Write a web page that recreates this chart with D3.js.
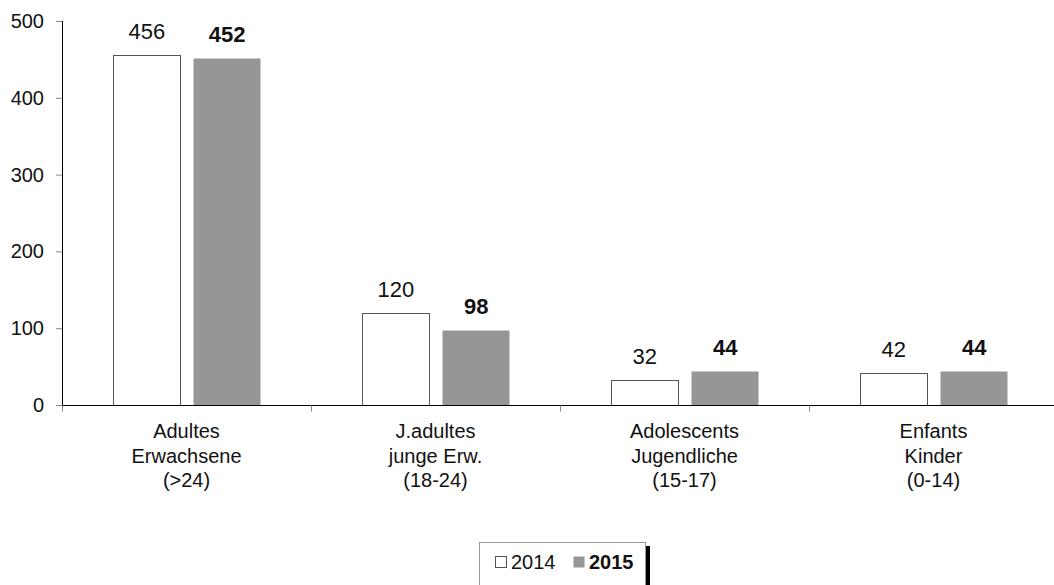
<!DOCTYPE html>
<html><head><meta charset="utf-8">
<script src="https://cdn.jsdelivr.net/npm/d3@7"></script>
<style>
body{margin:0;background:#fff;}
svg{display:block;font-family:"Liberation Sans",Arial,Helvetica,sans-serif;}
</style></head>
<body><svg id="c" width="1054" height="585"></svg>
<script>
const categories = [["Adultes","Erwachsene","(>24)"],["J.adultes","junge Erw.","(18-24)"],["Adolescents","Jugendliche","(15-17)"],["Enfants","Kinder","(0-14)"]];
const categoryKeys = ["Adultes","J.adultes","Adolescents","Enfants"];
const seriesNames = ["2014","2015"];
const values2014 = [456,120,32,42];
const values2015 = [452,98,44,44];
const yTicks = [0,100,200,300,400,500];

const svg = d3.select("#c");
const x0 = d3.scaleBand().domain(categoryKeys).range([62,1058]);
const bw = x0.bandwidth();
const x1 = d3.scaleBand().domain(seriesNames).range([bw*0.205, bw*0.799]).paddingInner(0.1615);
const y = d3.scaleLinear().domain([0,500]).range([405,21]);

const series = [
  {name:"2014", values:values2014, fill:"#ffffff", stroke:"#555555", weight:"normal"},
  {name:"2015", values:values2015, fill:"#969696", stroke:"none", weight:"bold"}
];

// y axis
const yAxis = svg.append("g").attr("transform","translate(62,0)")
  .call(d3.axisLeft(y).tickValues(yTicks).tickSize(6).tickPadding(12));
yAxis.select(".domain").attr("stroke","#000").attr("d","M0.5,21V405.5");
yAxis.selectAll(".tick line").attr("stroke","#888");
yAxis.selectAll(".tick text").attr("font-size",20).attr("fill","#111").attr("font-family","Liberation Sans, Arial, sans-serif");

// bars
series.forEach(s=>{
  svg.append("g").selectAll("rect").data(s.values).join("rect")
    .attr("x",(d,i)=>Math.round(x0(categoryKeys[i])+x1(s.name))+0.5)
    .attr("y",d=>Math.round(y(d))+0.5)
    .attr("width",Math.round(x1.bandwidth()))
    .attr("height",d=>Math.round(y(0)-y(d)))
    .attr("fill",s.fill).attr("stroke",s.stroke).attr("stroke-width",1);
  svg.append("g").selectAll("text").data(s.values).join("text")
    .attr("x",(d,i)=>x0(categoryKeys[i])+x1(s.name)+x1.bandwidth()/2)
    .attr("y",d=>y(d)-16)
    .attr("text-anchor","middle").attr("font-size",22).attr("font-weight",s.weight).attr("fill","#111")
    .text(d=>d);
});

// x axis
const xAxisG = svg.append("g").attr("transform","translate(0,405.5)");
xAxisG.append("line").attr("x1",62).attr("x2",1054).attr("stroke","#000");
const bounds = categoryKeys.map(k=>x0(k)).concat([x0(categoryKeys[3])+bw]);
xAxisG.selectAll("line.t").data(bounds).join("line").attr("class","t")
  .attr("x1",d=>Math.round(d)+0.5).attr("x2",d=>Math.round(d)+0.5).attr("y1",0).attr("y2",6).attr("stroke","#888");

// category labels
categories.forEach((lines,i)=>{
  const t = svg.append("text").attr("text-anchor","middle").attr("font-size",20).attr("fill","#111");
  lines.forEach((l,j)=>{
    t.append("tspan").attr("x",x0(categoryKeys[i])+bw/2).attr("y",438+j*24.5).text(l);
  });
});

// legend
const lg = svg.append("g");
lg.append("rect").attr("x",645).attr("y",546).attr("width",5).attr("height",60).attr("fill","#000");
lg.append("rect").attr("x",479.5).attr("y",542.5).attr("width",166).attr("height",60).attr("fill","#fff").attr("stroke","#999");
const legItems = [{x:495, s:series[0]},{x:573, s:series[1]}];
legItems.forEach(it=>{
  lg.append("rect").attr("x",it.x+0.5).attr("y",556.5).attr("width",11).attr("height",11)
    .attr("fill",it.s.fill).attr("stroke",it.s.name==="2014"?"#555":"none");
  lg.append("text").attr("x",it.x+16).attr("y",569).attr("font-size",20).attr("font-weight",it.s.weight).attr("fill","#111").text(it.s.name);
});
</script></body></html>
